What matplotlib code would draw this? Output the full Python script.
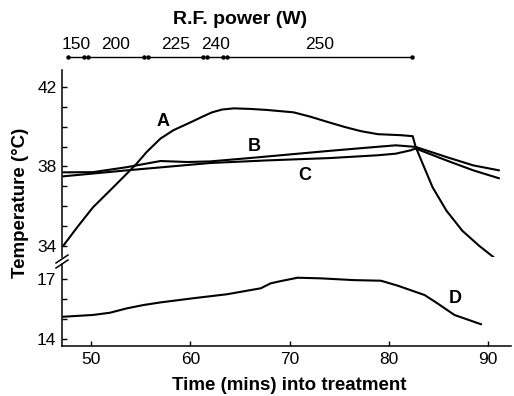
import matplotlib
matplotlib.use("Agg")
import matplotlib.pyplot as plt
from matplotlib.lines import Line2D

plt.rcParams['font.family'] = ['Liberation Sans', 'DejaVu Sans']

# ---------------- data ----------------
time_A = [47.2, 48.6, 50.2, 51.9, 53.6, 54.6, 55.6, 57.0, 58.3, 60.3, 61.3, 62.2, 63.2, 64.4,
          66.1, 67.7, 70.4, 72.1, 73.8, 75.5, 77.2, 78.9, 81.2, 82.4, 82.7, 83.4, 84.4, 85.8,
          87.4, 89.1, 90.6]
temp_A = [34.0, 34.93, 35.94, 36.78, 37.63, 38.14, 38.72, 39.40, 39.82, 40.28, 40.52, 40.72,
          40.86, 40.92, 40.89, 40.84, 40.72, 40.50, 40.24, 39.99, 39.77, 39.62, 39.57, 39.52,
          38.98, 38.14, 36.95, 35.77, 34.76, 34.0, 33.41]

time_B = [47.2, 50.2, 53.6, 57.0, 59.7, 62.0, 66.0, 70.0, 74.0, 78.0, 80.7, 82.7, 85.8, 88.5, 91.1]
temp_B = [37.7, 37.71, 37.96, 38.27, 38.22, 38.25, 38.42, 38.6, 38.78, 38.95, 39.06, 38.98,
          38.47, 38.05, 37.8]

time_C = [47.2, 53.6, 62.0, 67.7, 74.1, 78.9, 80.7, 82.2, 82.7, 85.8, 88.5, 91.1]
temp_C = [37.5, 37.8, 38.17, 38.3, 38.42, 38.56, 38.64, 38.81, 38.9, 38.3, 37.8, 37.4]

time_D = [47.2, 50.2, 51.9, 53.6, 55.3, 57.0, 60.3, 63.7, 67.1, 68.1, 69.1, 70.8, 73.1, 76.5,
          79.2, 80.9, 83.6, 84.9, 86.6, 89.3]
temp_D = [15.12, 15.21, 15.32, 15.54, 15.71, 15.84, 16.05, 16.25, 16.55, 16.80, 16.91, 17.08,
          17.05, 16.96, 16.93, 16.68, 16.21, 15.79, 15.21, 14.74]

power_bounds = [47.5, 49.5, 55.5, 61.5, 63.5, 82.5]
power_values = ["150", "200", "225", "240", "250"]

x_ticks = [50, 60, 70, 80, 90]
upper_ticks = [34, 38, 42]
upper_minor = [35, 36, 37, 39, 40, 41]
lower_ticks = [14, 17]
lower_minor = [15, 16]

# ---------------- figure ----------------
W, H = 514, 396
fig = plt.figure(figsize=(W / 100, H / 100), dpi=100)

left = 62 / W
width = (511 - 62) / W
up_bot, up_top = 256.8, 70
lo_bot, lo_top = 346, 264
ax_up = fig.add_axes([left, 1 - up_bot / H, width, (up_bot - up_top) / H])
ax_lo = fig.add_axes([left, 1 - lo_bot / H, width, (lo_bot - lo_top) / H])

lw = 1.5
for ax in (ax_up, ax_lo):
    ax.set_xlim(47.08, 92.3)
    for s in ('top', 'right'):
        ax.spines[s].set_visible(False)
    ax.spines['left'].set_linewidth(1.1)
    ax.spines['bottom'].set_linewidth(1.1)
    ax.tick_params(which='both', direction='in', length=3.5, width=1.0, labelsize=12.5,
                   pad=4)
    ax.patch.set_alpha(0)

ax_up.spines['bottom'].set_visible(False)
ax_up.tick_params(axis='x', which='both', bottom=False, labelbottom=False)
ax_up.set_ylim(33.45, 42.85)
ax_up.set_yticks(upper_ticks)
ax_up.set_yticks(upper_minor, minor=True)

ax_lo.set_ylim(13.65, 17.77)
ax_lo.set_yticks(lower_ticks)
ax_lo.set_yticks(lower_minor, minor=True)
ax_lo.set_xticks(x_ticks)

style = dict(color='black', lw=lw, solid_joinstyle='round', solid_capstyle='round')
ax_up.plot(time_A, temp_A, **style)
ax_up.plot(time_B, temp_B, **style)
ax_up.plot(time_C, temp_C, **style)
ax_lo.plot(time_D, temp_D, **style)

lab = dict(fontsize=13, fontweight='bold', ha='center', va='center')
ax_up.text(57.3, 40.28, 'A', **lab)
ax_up.text(66.4, 39.01, 'B', **lab)
ax_up.text(71.5, 37.54, 'C', **lab)
ax_lo.text(86.7, 16.06, 'D', **lab)

fig.text(289 / W, 1 - 385 / H, 'Time (mins) into treatment', fontsize=13.5,
         fontweight='bold', ha='center', va='center')
fig.text(21 / W, 1 - 203 / H, 'Temperature (°C)', rotation=90, fontsize=13.5,
         fontweight='bold', ha='center', va='center')

# axis break marks
for dy in (0, 5):
    fig.add_artist(Line2D([56 / W, 68 / W], [1 - (263 + dy) / H, 1 - (255 + dy) / H],
                          color='black', lw=1.1))

# power intervals
tr = ax_up.get_xaxis_transform()
gap = 0.2
for i, p in enumerate(power_values):
    a, b = power_bounds[i] + gap, power_bounds[i + 1] - gap
    ax_up.plot([a, b], [1.0696, 1.0696], transform=tr, color='black', lw=1.0,
               marker='o', markersize=2.2, clip_on=False)
    ax_up.text((power_bounds[i] + power_bounds[i + 1]) / 2, 1.134, p, transform=tr,
               ha='center', va='center', fontsize=12.5, clip_on=False)
fig.text(240 / W, 1 - 20 / H, 'R.F. power (W)', fontsize=14, fontweight='bold',
         ha='center', va='center')

fig.savefig('out.png', dpi=100)
